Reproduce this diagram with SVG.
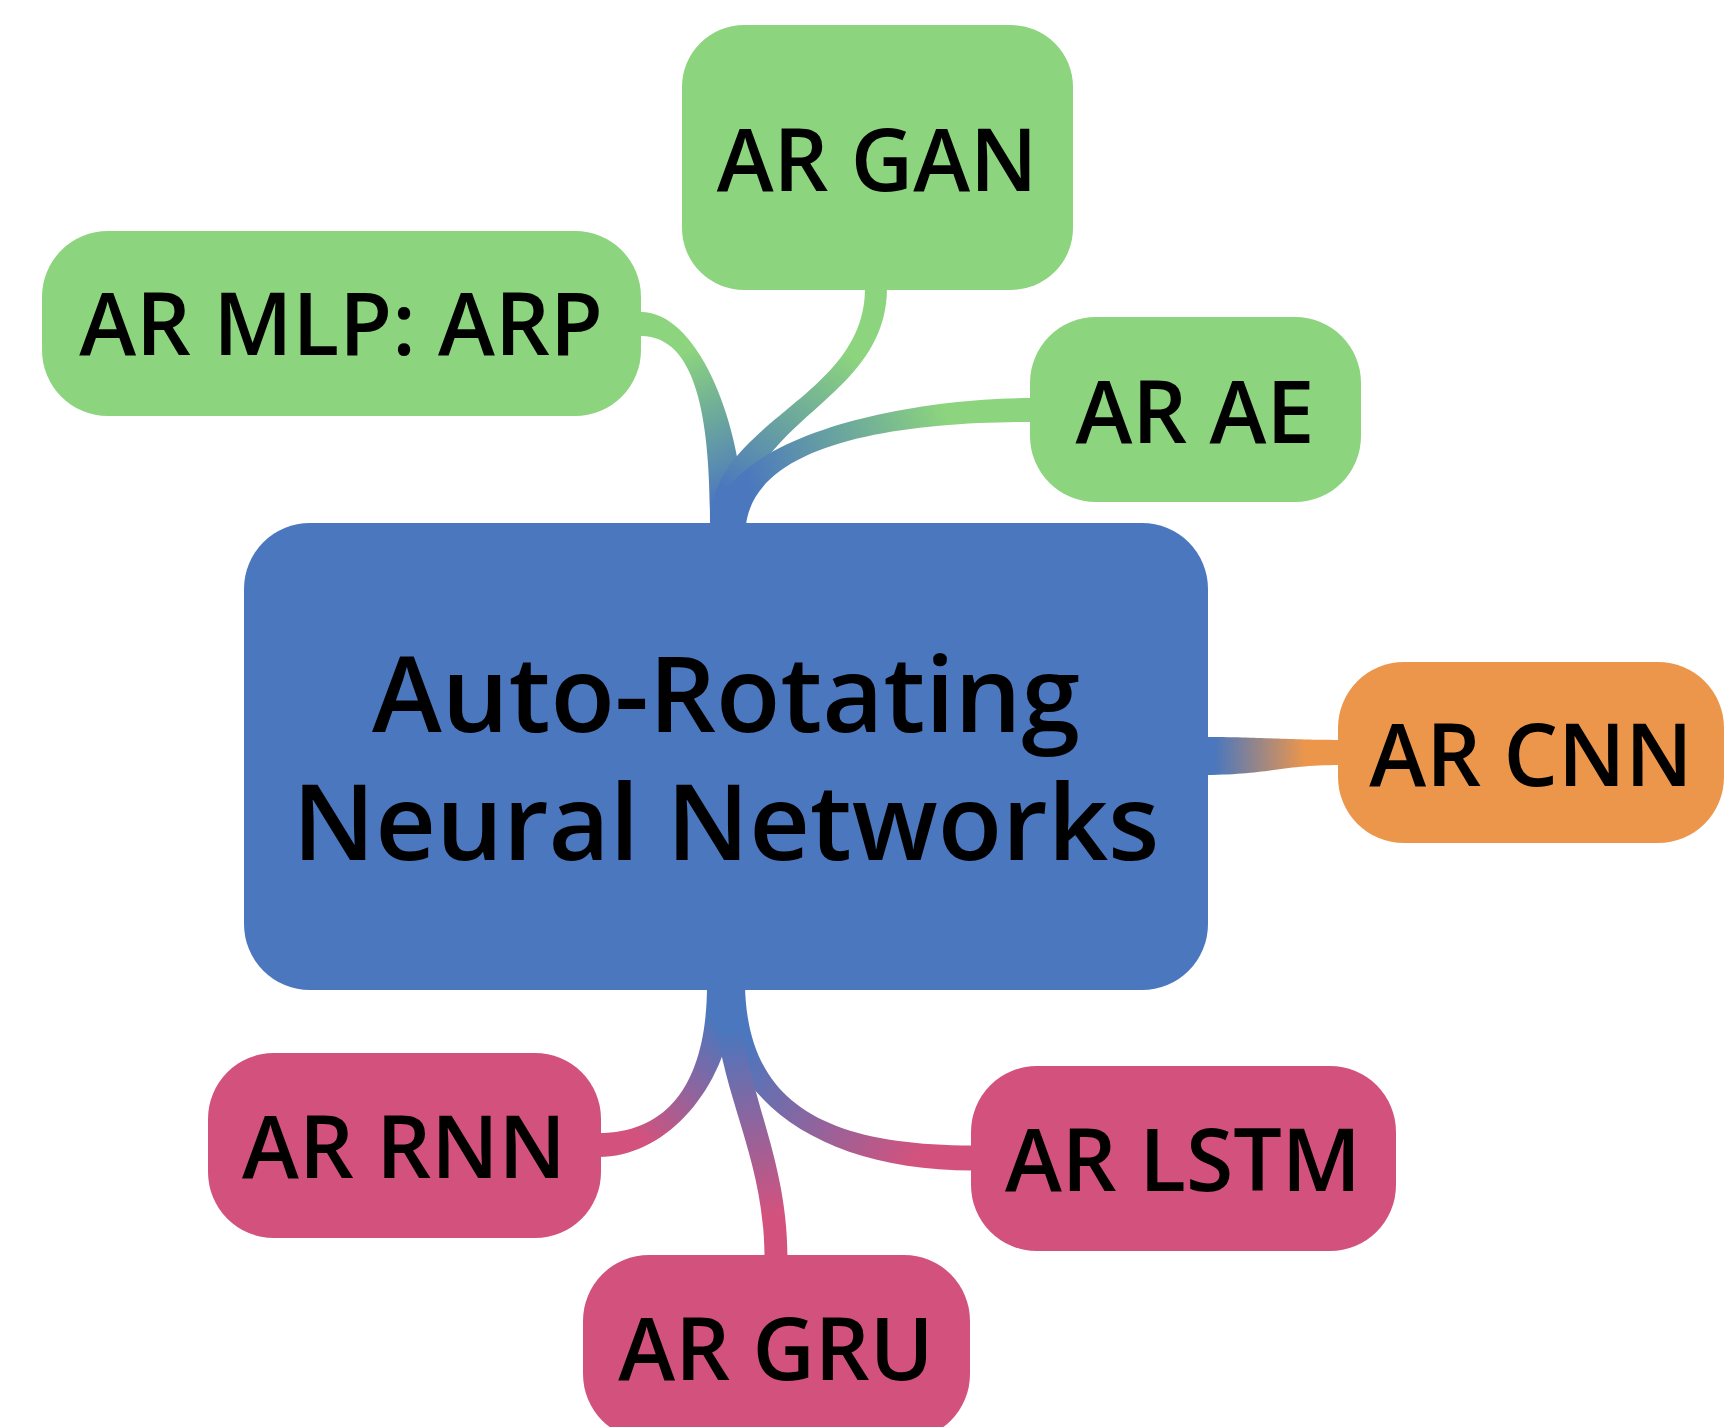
<svg xmlns="http://www.w3.org/2000/svg" width="1724" height="1427" viewBox="0 0 1724 1427">
<style>
.leaf{fill:#8CD47E}
.cnn{fill:#EC964C}
.pink{fill:#D3527D}
.root{fill:#4A77BE}
.t{font-family:"Open Sans","Noto Sans","Liberation Sans",sans-serif;font-size:86px;font-weight:600;fill:#000;text-anchor:middle}
.tr{font-size:105.5px}
</style>
<defs>
<linearGradient id="gMLP" gradientUnits="userSpaceOnUse" x1="727" y1="523" x2="641" y2="324"><stop offset="0.1" stop-color="#4A77BE"/><stop offset="0.8" stop-color="#8CD47E"/></linearGradient>
<linearGradient id="gGAN" gradientUnits="userSpaceOnUse" x1="727" y1="523" x2="876" y2="290"><stop offset="0.1" stop-color="#4A77BE"/><stop offset="0.75" stop-color="#8CD47E"/></linearGradient>
<linearGradient id="gAE" gradientUnits="userSpaceOnUse" x1="727" y1="523" x2="1030" y2="410"><stop offset="0.1" stop-color="#4A77BE"/><stop offset="0.75" stop-color="#8CD47E"/></linearGradient>
<linearGradient id="gCNN" gradientUnits="userSpaceOnUse" x1="1208" y1="756" x2="1338" y2="752"><stop offset="0.05" stop-color="#4A77BE"/><stop offset="0.75" stop-color="#EC964C"/></linearGradient>
<linearGradient id="gRNN" gradientUnits="userSpaceOnUse" x1="726" y1="990" x2="601" y2="1145"><stop offset="0.15" stop-color="#4A77BE"/><stop offset="0.85" stop-color="#D3527D"/></linearGradient>
<linearGradient id="gLSTM" gradientUnits="userSpaceOnUse" x1="726" y1="990" x2="971" y2="1158"><stop offset="0.15" stop-color="#4A77BE"/><stop offset="0.85" stop-color="#D3527D"/></linearGradient>
<linearGradient id="gGRU" gradientUnits="userSpaceOnUse" x1="726" y1="990" x2="776" y2="1256"><stop offset="0.15" stop-color="#4A77BE"/><stop offset="0.85" stop-color="#D3527D"/></linearGradient>
</defs>
<g id="connectors">
<path fill="url(#gMLP)" d="M744,525 C744,430 700,312 641,312 L641,336 C700,336 710,430 710,525 Z"/>
<path fill="url(#gGAN)" d="M744,525 C744,420 887,400 887,288 L865,288 C865,400 710,420 710,525 Z"/>
<path fill="url(#gAE)" d="M746,525 C756,442 900,422 1032,422 L1032,398 C900,398 724,438 714,521 Z"/>
<path fill="url(#gCNN)" d="M1200,775 C1270,775 1280,765 1340,765 L1340,740 C1280,740 1270,737 1200,737 Z"/>
<path fill="url(#gRNN)" d="M707,985 C707,1080 670,1133 599,1133 L599,1157 C670,1157 735,1080 735,985 Z"/>
<path fill="url(#gLSTM)" d="M717,985 C719,1100 820,1170.5 973,1170.5 L973,1145.5 C820,1145.5 747,1100 745,985 Z"/>
<path fill="url(#gGRU)" d="M713,985 C715,1090 764.5,1150 764.5,1258 L787.5,1258 C787.5,1150 741,1090 739,985 Z"/>
</g>
<g id="root">
<rect class="root" x="244" y="523" width="964" height="467" rx="66"/>
<text class="t tr"><tspan x="726" y="732">Auto-Rotating</tspan><tspan x="726" y="860">Neural Networks</tspan></text>
</g>
<g id="n-gan">
<rect class="leaf" x="682" y="25" width="391" height="265" rx="62"/>
<text class="t" x="877" y="191">AR GAN</text>
</g>
<g id="n-mlp">
<rect class="leaf" x="42" y="231" width="599" height="185" rx="66"/>
<text class="t" x="341" y="355">AR MLP: ARP</text>
</g>
<g id="n-ae">
<rect class="leaf" x="1030" y="317" width="331" height="185" rx="66"/>
<text class="t" x="1195" y="443">AR AE</text>
</g>
<g id="n-cnn">
<rect class="cnn" x="1338" y="662" width="386" height="181" rx="66"/>
<text class="t" x="1531" y="786">AR CNN</text>
</g>
<g id="n-rnn">
<rect class="pink" x="208" y="1053" width="393" height="185" rx="66"/>
<text class="t" x="404" y="1178">AR RNN</text>
</g>
<g id="n-lstm">
<rect class="pink" x="971" y="1066" width="425" height="185" rx="66"/>
<text class="t" x="1183" y="1191">AR LSTM</text>
</g>
<g id="n-gru">
<rect class="pink" x="583" y="1255" width="387" height="185" rx="66"/>
<text class="t" x="776" y="1380">AR GRU</text>
</g>
</svg>
